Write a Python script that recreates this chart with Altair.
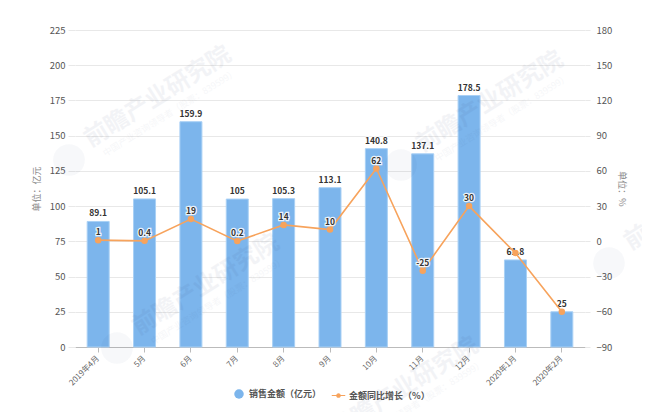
import altair as alt
import pandas as pd

months = ["2019年4月", "5月", "6月", "7月", "8月", "9月", "10月", "11月", "12月", "2020年1月", "2020年2月"]
sales = [89.1, 105.1, 159.9, 105, 105.3, 113.1, 140.8, 137.1, 178.5, 61.8, 25]
growth = [1, 0.4, 19, 0.2, 14, 10, 62, -25, 30, -10, -60]
growth_labels = ["1", "0.4", "19", "0.2", "14", "10", "62", "-25", "30", "", ""]
left_ticks = [0, 25, 50, 75, 100, 125, 150, 175, 200, 225]
right_ticks = [-90, -60, -30, 0, 30, 60, 90, 120, 150, 180]
name_sales = "销售金额（亿元）"
name_growth = "金额同比增长（%）"

FONT = "Noto Sans CJK SC"
df = pd.DataFrame({"m": months, "s": sales, "g": growth, "gl": growth_labels,
                   "ns": name_sales, "ng": name_growth})
base = alt.Chart(df)
X = alt.X("m:N", sort=months, title=None, scale=alt.Scale(paddingInner=0.5, paddingOuter=0.25),
          axis=alt.Axis(labelAngle=-45, labelAlign="right", labelBaseline="middle", labelFontSize=8,
                        labelColor="#666666", labelFont=FONT, labelOverlap=False, labelPadding=5,
                        tickSize=5, tickColor="#bbbbbb", domainColor="#bbbbbb", grid=False))
LS = alt.Scale(domain=[0, 225], nice=False, zero=False)
RS = alt.Scale(domain=[-90, 180], nice=False, zero=False)

bars = base.mark_bar(size=22, stroke="#a9d0f5", strokeWidth=1).encode(
    x=X,
    y=alt.Y("s:Q", scale=LS, title="单位：亿元",
            axis=alt.Axis(values=left_ticks, orient="left", grid=True, gridColor="#e8e8e8", gridWidth=1,
                          domain=False, tickSize=7, tickColor="#e8e8e8", labelFontSize=9.5,
                          labelColor="#555555", labelFont=FONT, labelPadding=3,
                          titleFont=FONT, titleFontSize=9, titleFontWeight="normal",
                          titleColor="#888888", titlePadding=8)),
    color=alt.Color("ns:N", scale=alt.Scale(domain=[name_sales], range=["#7cb5ec"]), title=None,
                    legend=alt.Legend(orient="none", legendX=159, legendY=359, symbolType="circle",
                                      symbolSize=90, symbolStrokeWidth=0, labelFont=FONT, labelFontSize=9,
                                      labelFontWeight="bold", labelColor="#555555", labelOffset=5)),
)

bar_halo = base.mark_text(dy=-8, fontSize=8.5, fontWeight="bold", font=FONT, stroke="white",
                          strokeWidth=2, strokeOpacity=0.8).encode(
    x=X, y=alt.Y("s:Q", scale=LS, axis=None), text=alt.Text("s:Q"), color=alt.value("white"))
bar_text = base.mark_text(dy=-8, fontSize=8.5, fontWeight="bold", font=FONT).encode(
    x=X, y=alt.Y("s:Q", scale=LS, axis=None), text=alt.Text("s:Q"), color=alt.value("#333333"))

LEGEND_PATH = ("M-1.1,-0.07 L1.1,-0.07 L1.1,0.07 L-1.1,0.07 Z "
               "M0.38,0 A0.38,0.38 0 1 1 -0.38,0 A0.38,0.38 0 1 1 0.38,0 Z")
line = base.mark_line(strokeWidth=1.6, interpolate="linear").encode(
    x=X,
    y=alt.Y("g:Q", scale=RS, title="单位：%",
            axis=alt.Axis(values=right_ticks, orient="right", grid=False, domain=False, tickSize=5,
                          tickColor="#e8e8e8", labelFontSize=9.5, labelColor="#555555", labelFont=FONT,
                          labelPadding=6, titleFont=FONT, titleFontSize=9, titleFontWeight="normal",
                          titleColor="#888888", titleAngle=90, titlePadding=5)),
    stroke=alt.Stroke("ng:N", scale=alt.Scale(domain=[name_growth], range=["#f7a35c"]), title=None,
                      legend=alt.Legend(orient="none", legendX=257, legendY=359, symbolType=LEGEND_PATH,
                                        symbolSize=150, symbolFillColor="#f7a35c", symbolStrokeWidth=0,
                                        labelFont=FONT, labelFontSize=9, labelFontWeight="bold",
                                        labelColor="#555555", labelOffset=4)),
)
pts = base.mark_point(filled=True, size=42, opacity=1, color="#f7a35c").encode(
    x=X, y=alt.Y("g:Q", scale=RS, axis=None))
line_halo = base.mark_text(dy=-8, fontSize=8.5, fontWeight="bold", font=FONT, stroke="white",
                           strokeWidth=2.5, strokeOpacity=0.85).encode(
    x=X, y=alt.Y("g:Q", scale=RS, axis=None), text="gl:N", color=alt.value("white"))
line_text = base.mark_text(dy=-8, fontSize=8.5, fontWeight="bold", font=FONT).encode(
    x=X, y=alt.Y("g:Q", scale=RS, axis=None), text="gl:N", color=alt.value("#333333"))

one = alt.Chart(alt.Data(values=[{"a": 1}]))
# plot-relative watermark placements
wm = []
for cx, cy in [(83, 67), (131, 255), (415, 72), (330, 358), (623, 170)]:
    wm.append(one.mark_text(text="前瞻产业研究院", font=FONT, fontSize=24, fontWeight="bold", angle=328,
                            color="#223366", opacity=0.05, align="center", baseline="middle",
                            x=cx, y=cy).encode(detail="a:N"))
    wm.append(one.mark_text(text="中国产业咨询领导者（股票：839599）", font=FONT, fontSize=9, angle=328,
                            color="#223366", opacity=0.04, align="center", baseline="middle",
                            x=cx + 12, y=cy + 16).encode(detail="a:N"))
    wm.append(one.mark_point(filled=True, shape="circle", size=1000, color="#223366", opacity=0.035,
                             x=cx - 89, y=cy + 63).encode(detail="a:N"))

chart = alt.layer(bars, bar_halo, bar_text, line, pts, line_halo, line_text, *wm).resolve_scale(
    y="independent", x="shared"
).properties(
    width=510, height=317,
    padding={"left": 67, "top": 22, "right": 57, "bottom": 65},
    autosize=alt.AutoSizeParams(type="none"),
    background="white",
).configure_view(stroke=None)

chart.save("out.html", embed_options={"renderer": "svg", "actions": False})
